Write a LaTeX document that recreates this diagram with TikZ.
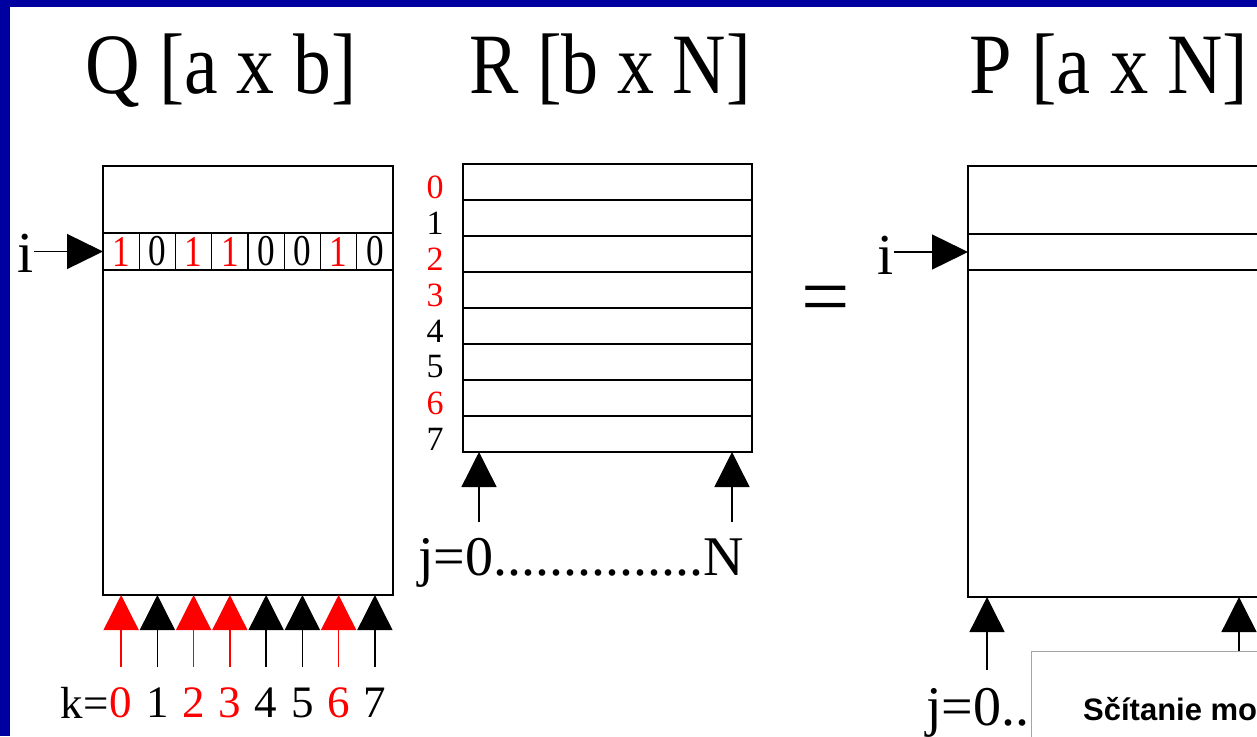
\documentclass[tikz,border=0pt]{standalone}
\usepackage{fontspec}
\setmainfont{Liberation Serif}
\newfontfamily\popfont{Liberation Sans}
\usetikzlibrary{arrows.meta,positioning,calc}
\definecolor{slideblue}{RGB}{0,0,160}
\definecolor{bitred}{RGB}{255,0,0}
\definecolor{popgray}{RGB}{165,165,165}
\newcommand{\squeeze}[2]{\scalebox{#1}[1]{#2}}

\begin{document}
\begin{tikzpicture}[x=1pt,y=-1pt,
    mat/.style={draw,line width=1.5pt,inner sep=0pt,outer sep=0pt,anchor=north west},
    rowline/.style={line width=1.2pt},
    bit/.style={draw,line width=1.1pt,minimum width=36.25pt,minimum height=37pt,
      inner sep=0pt,outer sep=0pt,font=\fontsize{44}{44}\selectfont},
    uptip/.style={line width=1.4pt,-{Triangle[length=35pt,width=35pt]}},
    rowtip/.style={line width=1.4pt,-{Triangle[length=36pt,width=35pt]}},
    title/.style={inner sep=0pt,anchor=base,font=\fontsize{86}{86}\selectfont},
    lbl/.style={inner sep=0pt,font=\fontsize{58}{58}\selectfont},
    klbl/.style={inner sep=0pt,font=\fontsize{45}{45}\selectfont},
    rlbl/.style={inner sep=0pt,font=\fontsize{34}{34}\selectfont}]
  \useasboundingbox (0,0) rectangle (1257,736);
  \clip (0,0) rectangle (1257,736);
  % slide frame
  \fill[slideblue] (0,0) rectangle (1257,736);
  \fill[white] (10,7) rectangle (1270,750);

  % titles
  \node[title] (qtitle) at (221,93) {\squeeze{0.88}{Q [a x b]}};
  \node[title] (rtitle) at (610,93) {\squeeze{0.86}{R [b x N]}};
  \node[title] (ptitle) at (1109,93) {\squeeze{0.89}{P [a x N]}};

  % Q
  \node[mat,minimum width=290pt,minimum height=429pt] (qmat) at (103,166) {};
  \foreach \b/\c [count=\k from 0] in {1/bitred,0/black,1/bitred,1/bitred,0/black,0/black,1/bitred,0/black}
  {
    \node[bit,text=\c] (q\k) at ({121.125+36.25*\k},251.5) {\squeeze{0.8}{\b}};
    \coordinate (qa\k) at ({121.125+36.25*\k},667);
    \draw[uptip,\c] (qa\k) -- (q\k |- qmat.south);
    \node[klbl,text=\c] (kl\k) at ({121.125+36.25*\k},703) {\k};
  }
  \node[klbl,left=1pt of kl0] (keq) {k=};
  \node[lbl,anchor=base east] (iq) at (34,272) {i};
  \draw[rowtip] (iq.east |- q0) -- (q0.west);

  % R
  \node[mat,minimum width=289pt,minimum height=288pt] (rmat) at (463,164) {};
  \foreach \r in {1,...,7}
    \draw[rowline] ($(rmat.north west)!\r/8!(rmat.south west)$) -- ($(rmat.north east)!\r/8!(rmat.south east)$);
  \foreach \c [count=\r from 0] in {bitred,black,bitred,bitred,black,black,bitred,black}
    \node[rlbl,text=\c] (rl\r) at (435,{187+36*\r}) {\r};
  \coordinate (ra0) at (479,522);
  \coordinate (raN) at (732,522);
  \draw[uptip] (ra0) -- (ra0 |- rmat.south);
  \draw[uptip] (raN) -- (raN |- rmat.south);
  \node[lbl,anchor=base west,font=\fontsize{56}{56}\selectfont] (rj) at (418,575) {j=0...............N};

  % equals
  \node[title,anchor=center] (eq) at (826,306) {=};

  % P
  \node[mat,minimum width=330pt,minimum height=431pt] (pmat) at (968,166) {};
  \draw[rowline] ($(pmat.north west)+(0,68)$) -- ($(pmat.north east)+(0,68)$);
  \draw[rowline] ($(pmat.north west)+(0,104)$) -- ($(pmat.north east)+(0,104)$);
  \coordinate (prow) at ($(pmat.north west)+(0,86)$);
  \node[lbl,anchor=base east] (ip) at (894,274) {i};
  \draw[rowtip] (ip.east |- prow) -- (prow);
  \coordinate (pa0) at (987,670);
  \coordinate (paN) at (1239,670);
  \draw[uptip] (pa0) -- (pa0 |- pmat.south);
  \draw[uptip] (paN) -- (paN |- pmat.south);
  \node[lbl,anchor=base west,font=\fontsize{56}{56}\selectfont] (pj) at (926,725) {j=0..};

  % popup
  \node[draw=popgray,line width=1.2pt,fill=white,anchor=north west,
    minimum width=300pt,minimum height=130pt] (popup) at (1031,651) {};
  \node[inner sep=0pt,anchor=base west,font={\popfont\bfseries\fontsize{31}{31}\selectfont}]
    (poptext) at (1083,720) {Sčítanie mo};
\end{tikzpicture}
\end{document}
